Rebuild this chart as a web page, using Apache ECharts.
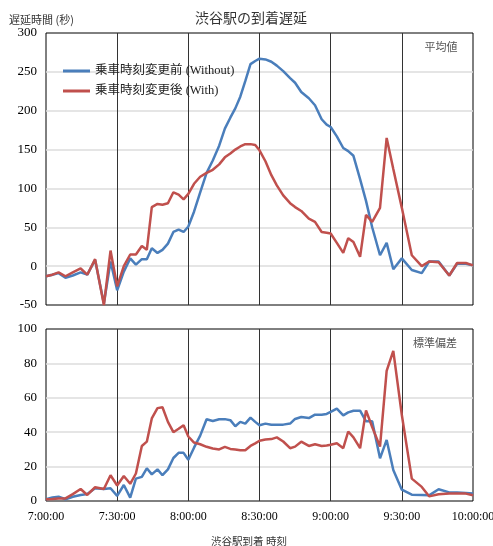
<!DOCTYPE html>
<html>
<head>
<meta charset="utf-8">
<script src="https://cdn.jsdelivr.net/npm/echarts@6/dist/echarts.min.js"></script>
<style>
  html, body { margin: 0; padding: 0; background: #fff; }
  #chart { width: 493px; height: 546px; }
</style>
</head>
<body>
<div id="chart"></div>
<script>
// Arrival time of each train at Shibuya, in minutes after 7:00
const arrivalMin = [
  0, 2.7, 5.3, 8.2, 11.3, 14.6, 17.4, 20.7, 24.4, 27.2, 30,
  32.8, 35.5, 37.9, 40.4, 42.5, 44.6, 47, 49.1, 51.4, 53.7, 55.9, 58, 60,
  62.4, 65, 67.7, 70.3, 73, 75.4, 77.7, 79.8, 81.9, 84, 86.2, 88.2, 90,
  92.5, 95, 97.3, 100, 102.9, 105, 107.6, 110.8, 113.4, 116.2, 118.3, 120,
  122.6, 125.3, 127.4, 129.6, 132.4, 134.9, 137.5, 140.8, 143.6, 146.4, 150,
  154.2, 158.4, 161.5, 165.5, 170, 173.3, 177, 180
];

// Mean arrival delay (s) before the boarding-time change
const meanWithout = [
  -13, -11, -9, -15, -12, -8, -11, 8, -48, 6, -31,
  -7, 10, 2, 9, 9, 23, 17, 21, 29, 44, 47, 44, 51,
  70, 95, 120, 136, 155, 177, 191, 203, 218, 238, 260, 264, 267,
  266, 263, 258, 251, 242, 236, 224, 216, 207, 189, 182, 179,
  167, 152, 148, 142, 112, 84, 50, 14, 30, -4, 10,
  -5, -9, 6, 6, -12, 3, 3, 1
];

// Mean arrival delay (s) after the boarding-time change
const meanWith = [
  -13, -11, -8, -13, -8, -3, -11, 9, -50, 20, -26,
  0, 15, 15, 26, 21, 76, 80, 79, 81, 95, 92, 86, 93,
  106, 115, 120, 124, 131, 140, 145, 150, 154, 157, 157, 156, 149,
  135, 117, 104, 91, 81, 76, 71, 61, 57, 44, 43, 42,
  30, 17, 36, 31, 12, 66, 57, 75, 165, 125, 75,
  14, 0, 6, 5, -12, 4, 4, 1
];

// Standard deviation of the delay (s), before
const sdWithout = [
  1, 2, 2.5, 1, 2.5, 3.5, 4, 7.4, 7, 7.4, 3,
  9.3, 2, 13, 14, 19, 15.5, 18.4, 15, 18.4, 25, 28, 28, 24,
  31, 38, 47.5, 46.5, 47.5, 47.6, 47, 43.5, 46, 45, 48.5, 46, 44,
  45, 44.3, 44.3, 44.4, 45, 47.7, 48.8, 48.2, 50.2, 50.2, 50.6, 51.8,
  53.7, 49.8, 51.5, 52.5, 52.5, 46.3, 46.3, 24.8, 35.5, 18, 6.6,
  3.7, 3.5, 3.3, 6.8, 5, 4.9, 4.6, 4.3
];

// Standard deviation of the delay (s), after
const sdWith = [
  1, 1.2, 1.5, 1.5, 4, 7, 3.5, 8, 7, 15, 9,
  14.5, 10, 16, 32, 34.5, 48, 54, 54.5, 46, 40, 42, 44, 37.5,
  34, 33, 31.5, 30.5, 30, 31.5, 30.3, 30, 29.5, 29.5, 32, 33.5, 35,
  35.7, 36, 37, 34.6, 30.7, 31.6, 34.5, 32, 33, 32, 32.3, 32.7,
  33.6, 30.7, 40.4, 37, 30.7, 52.7, 43, 31.6, 75.6, 87.3, 50,
  13, 8.2, 2.7, 3.9, 4.3, 4.3, 4.3, 3.3
];

const timeTickLabels = ['7:00:00', '7:30:00', '8:00:00', '8:30:00', '9:00:00', '9:30:00', '10:00:00'];

const NAME_WITHOUT = '乗車時刻変更前 (Without)';
const NAME_WITH = '乗車時刻変更後 (With)';
const BLUE = '#4a7ebb';
const RED = '#c0504d';
const SERIF = "'Liberation Serif', 'Times New Roman', 'Noto Sans CJK JP', serif";
const CJK = "'Noto Sans CJK JP', sans-serif";

const pairs = vals => arrivalMin.map((t, i) => [t, vals[i]]);

function timeAxis(gridIndex, showLabels) {
  return {
    type: 'value', gridIndex, min: 0, max: 180, interval: 30,
    axisLine: { show: false }, axisTick: { show: false },
    axisLabel: {
      show: showLabels, margin: 10, color: '#000',
      fontFamily: SERIF, fontSize: 12,
      formatter: v => timeTickLabels[Math.round(v / 30)]
    },
    splitLine: { show: true, showMinLine: false, showMaxLine: false,
      lineStyle: { color: '#333', width: 1 } }
  };
}

function valueAxis(gridIndex, min, max, interval) {
  return {
    type: 'value', gridIndex, min, max, interval,
    axisLine: { show: false }, axisTick: { show: false },
    axisLabel: { margin: 9, color: '#000', fontFamily: SERIF, fontSize: 13 },
    splitLine: { show: true, showMinLine: false, showMaxLine: false,
      lineStyle: { color: '#dcdcdc', width: 1.5 } }
  };
}

function lineSeries(name, color, vals, idx) {
  return {
    type: 'line', name, xAxisIndex: idx, yAxisIndex: idx,
    data: pairs(vals), symbol: 'none', showSymbol: false,
    lineStyle: { color, width: 2.5 }, itemStyle: { color },
    z: color === RED ? 3 : 2
  };
}

const chart = echarts.init(document.getElementById('chart'), null, { renderer: 'canvas' });
chart.setOption({
  animation: false,
  backgroundColor: '#fff',
  grid: [
    { left: 46, right: 20, top: 33, height: 272, show: true, outerBoundsMode: 'none',
      containLabel: false, borderColor: '#000', borderWidth: 1, backgroundColor: 'transparent' },
    { left: 46, right: 20, top: 329, height: 172, show: true, outerBoundsMode: 'none',
      containLabel: false, borderColor: '#000', borderWidth: 1, backgroundColor: 'transparent' }
  ],
  xAxis: [timeAxis(0, false), timeAxis(1, true)],
  yAxis: [valueAxis(0, -50, 300, 50), valueAxis(1, 0, 100, 20)],
  legend: {
    orient: 'vertical', left: 63, top: 64, padding: 0,
    itemWidth: 27, itemHeight: 3, itemGap: 6, icon: 'rect',
    data: [NAME_WITHOUT, NAME_WITH],
    textStyle: { fontFamily: SERIF, fontSize: 12.5, color: '#222', lineHeight: 14 }
  },
  graphic: [
    { type: 'text', x: 251, y: 18, style: { text: '渋谷駅の到着遅延', font: '14px ' + CJK,
      fill: '#333', textAlign: 'center', textVerticalAlign: 'middle' } },
    { type: 'text', x: 9, y: 20, style: { text: '遅延時間 (秒)', font: '11px ' + CJK,
      fill: '#333', textAlign: 'left', textVerticalAlign: 'middle' } },
    { type: 'text', x: 441, y: 47, style: { text: '平均値', font: '11px ' + CJK,
      fill: '#555', textAlign: 'center', textVerticalAlign: 'middle' } },
    { type: 'text', x: 435, y: 343, style: { text: '標準偏差', font: '11px ' + CJK,
      fill: '#555', textAlign: 'center', textVerticalAlign: 'middle' } },
    { type: 'text', x: 249, y: 541, style: { text: '渋谷駅到着 時刻', font: '10.5px ' + CJK,
      fill: '#333', textAlign: 'center', textVerticalAlign: 'middle' } }
  ],
  series: [
    lineSeries(NAME_WITHOUT, BLUE, meanWithout, 0),
    lineSeries(NAME_WITH, RED, meanWith, 0),
    lineSeries(NAME_WITHOUT, BLUE, sdWithout, 1),
    lineSeries(NAME_WITH, RED, sdWith, 1)
  ]
});
</script>
</body>
</html>
